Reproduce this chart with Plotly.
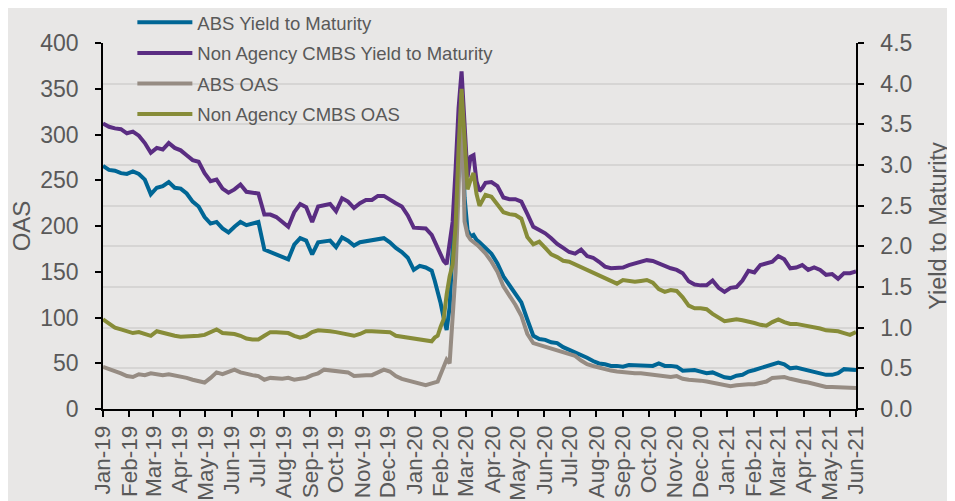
import pandas as pd
import plotly.graph_objects as go

# ---- x categories: weekly observations, with half-week detail around the 2020 spike ----
dates = (
    list(pd.date_range("2019-01-01", periods=55, freq="7D"))
    + list(pd.date_range("2020-01-21", periods=19, freq="84h"))
    + list(pd.date_range("2020-03-31", periods=62, freq="7D"))
)

abs_ytm = [
    2.99, 2.94, 2.93, 2.90, 2.89, 2.92, 2.89, 2.82, 2.64, 2.72,
    2.74, 2.79, 2.72, 2.71, 2.65, 2.55, 2.49, 2.36, 2.28, 2.30,
    2.22, 2.17, 2.24, 2.30, 2.26, 2.28, 2.30, 1.96, 1.93, 1.90,
    1.86, 1.84, 2.02, 2.10, 2.07, 1.90, 2.05, 2.06, 2.07, 1.99,
    2.11, 2.07, 2.01, 2.05, 2.06, 2.07, 2.09, 2.10, 2.05, 1.98,
    1.93, 1.86, 1.71, 1.76, 1.74,
    1.70, 1.58, 1.45, 1.30, 1.12, 0.97, 1.25, 2.00, 2.90, 3.40,
    3.60, 2.60, 2.20, 2.12, 2.14, 2.08, 2.05, 2.02, 1.98,
    1.91, 1.79, 1.63, 1.52, 1.42, 1.31, 1.10, 0.90, 0.86, 0.85,
    0.82, 0.81, 0.76, 0.73, 0.70, 0.66, 0.63, 0.59, 0.56, 0.55,
    0.53, 0.53, 0.52, 0.54, 0.54, 0.53, 0.54, 0.53, 0.56, 0.53,
    0.53, 0.52, 0.47, 0.47, 0.48, 0.46, 0.44, 0.45, 0.42, 0.39,
    0.38, 0.41, 0.42, 0.46, 0.48, 0.50, 0.52, 0.54, 0.57, 0.55,
    0.50, 0.51, 0.49, 0.47, 0.46, 0.44, 0.42, 0.42, 0.44, 0.49,
    0.48, 0.48,
]

cmbs_ytm = [
    3.51, 3.47, 3.45, 3.44, 3.39, 3.41, 3.36, 3.27, 3.15, 3.21,
    3.19, 3.27, 3.21, 3.18, 3.12, 3.06, 3.04, 2.90, 2.80, 2.82,
    2.71, 2.66, 2.70, 2.76, 2.67, 2.66, 2.65, 2.39, 2.39, 2.36,
    2.30, 2.24, 2.42, 2.52, 2.48, 2.30, 2.49, 2.51, 2.52, 2.43,
    2.59, 2.55, 2.47, 2.53, 2.57, 2.57, 2.62, 2.62, 2.57, 2.53,
    2.49, 2.38, 2.23, 2.23, 2.22,
    2.14, 2.06, 1.98, 1.89, 1.82, 1.78, 2.05, 2.30, 2.95, 3.70,
    4.15, 3.50, 2.85, 3.10, 3.12, 2.80, 2.68, 2.72, 2.78,
    2.79, 2.74, 2.60, 2.58, 2.58, 2.55, 2.40, 2.24, 2.20, 2.16,
    2.10, 2.03, 1.98, 1.93, 1.91, 1.96, 1.88, 1.86, 1.81, 1.75,
    1.73, 1.73, 1.74, 1.77, 1.79, 1.81, 1.83, 1.82, 1.79, 1.75,
    1.73, 1.71, 1.67, 1.57, 1.53, 1.52, 1.52, 1.58, 1.49, 1.44,
    1.49, 1.50, 1.58, 1.70, 1.68, 1.77, 1.79, 1.81, 1.88, 1.84,
    1.73, 1.74, 1.77, 1.71, 1.74, 1.71, 1.65, 1.66, 1.60, 1.67,
    1.67, 1.69,
]

abs_oas = [
    46, 44, 42, 39, 36, 35, 38, 37, 39, 38,
    37, 38, 37, 36, 34, 32, 30, 29, 34, 40,
    38, 40, 43, 40, 38, 37, 36, 32, 34, 33,
    33, 34, 32, 33, 34, 37, 39, 43, 42, 41,
    41, 40, 36, 37, 37, 37, 40, 43, 41, 36,
    33, 31, 29, 28, 26,
    28, 29, 30, 38, 47, 54, 50, 100, 150, 240,
    345, 205, 190, 185, 183, 180, 177, 174, 170,
    161, 150, 134, 124, 114, 102, 82, 72, 70, 68,
    67, 65, 63, 60, 58, 53, 49, 47, 45, 43,
    42, 41, 40, 40, 39, 39, 38, 37, 37, 36,
    35, 36, 33, 32, 32, 31, 30, 29, 28, 26,
    25, 26, 27, 27, 27, 28, 30, 34, 35, 35,
    33, 31, 30, 29, 27, 25, 24, 24, 24, 23,
    23, 23,
]

cmbs_oas = [
    98, 93, 89, 87, 85, 83, 84, 82, 80, 85,
    83, 81, 80, 79, 79, 79, 80, 81, 84, 87,
    83, 83, 82, 80, 77, 76, 76, 80, 84, 84,
    83, 83, 80, 78, 80, 84, 86, 86, 85, 84,
    83, 82, 80, 82, 85, 85, 85, 85, 84, 80,
    79, 78, 78, 77, 76,
    74, 78, 80, 90, 98, 125, 145, 158, 200, 285,
    350, 295, 240, 250, 258, 235, 222, 228, 234,
    232, 224, 215, 213, 212, 208, 188, 180, 183, 176,
    169, 166, 162, 161, 158, 155, 152, 150, 147, 143,
    140, 137, 141, 140, 139, 140, 141, 138, 131, 128,
    130, 129, 122, 113, 110, 110, 109, 104, 100, 96,
    97, 98, 97, 96, 94, 92, 91, 95, 98, 95,
    93, 93, 92, 91, 89, 88, 86, 86, 85, 83,
    81, 84,
]

names = ["ABS Yield to Maturity", "Non Agency CMBS Yield to Maturity",
         "ABS OAS", "Non Agency CMBS OAS"]
colors = ["#006695", "#5A2D82", "#968C83", "#878C38"]

FONT = "Liberation Sans, Arial, sans-serif"
TXT = "#595959"
BG = "#E8E7E6"

fig = go.Figure()
series = [(abs_ytm, "y"), (cmbs_ytm, "y"), (abs_oas, "y2"), (cmbs_oas, "y2")]
for (vals, ax), nm, col in zip(series, names, colors):
    fig.add_trace(go.Scatter(
        x=dates, y=vals, name=nm, mode="lines", yaxis=ax,
        line=dict(color=col, width=4), legendgroup=nm,
    ))

fig.update_layout(
    width=947, height=493, autosize=False,
    margin=dict(l=95, r=99, t=35, b=92, pad=0, autoexpand=False),
    paper_bgcolor=BG, plot_bgcolor=BG,
    font=dict(family=FONT, color=TXT),
    showlegend=True,
    legend=dict(
        x=0.039, y=1.107, xanchor="left", yanchor="top",
        font=dict(size=18.5, color=TXT, family=FONT),
        bgcolor="rgba(0,0,0,0)", itemwidth=55, tracegroupgap=3.5,
        traceorder="grouped",
    ),
    xaxis=dict(
        type="date", range=["2019-01-01", "2021-06-01"],
        tick0="2019-01-01", dtick="M1", tickformat="%b-%y", tickangle=-90,
        showgrid=False, zeroline=False, showline=True, linecolor="black", linewidth=1.5,
        ticks="outside", ticklen=6, tickwidth=1.5, tickcolor="black",
        tickfont=dict(size=22.5, color=TXT), automargin=False,
    ),
    yaxis=dict(
        side="right", range=[0, 4.5], dtick=0.5, tickformat=".1f",
        showgrid=True, gridcolor="#D6D5D4", gridwidth=2, zeroline=False,
        showline=True, linecolor="black", linewidth=1.5,
        ticks="outside", ticklen=6, tickwidth=1.5, tickcolor="black",
        tickfont=dict(size=23, color=TXT), ticklabelstandoff=12,
        title=dict(text="Yield to Maturity", font=dict(size=23.5, color=TXT), standoff=18),
        automargin=False,
    ),
    yaxis2=dict(
        side="left", overlaying="y", range=[0, 400], dtick=50,
        showgrid=False, zeroline=False,
        showline=True, linecolor="black", linewidth=1.5,
        ticks="outside", ticklen=6, tickwidth=1.5, tickcolor="black",
        tickfont=dict(size=23, color=TXT), ticklabelstandoff=12,
        title=dict(text="OAS", font=dict(size=24, color=TXT), standoff=8),
        automargin=False,
    ),
)

fig.write_html("out.html", post_script="document.body.style.overflow='hidden';")
